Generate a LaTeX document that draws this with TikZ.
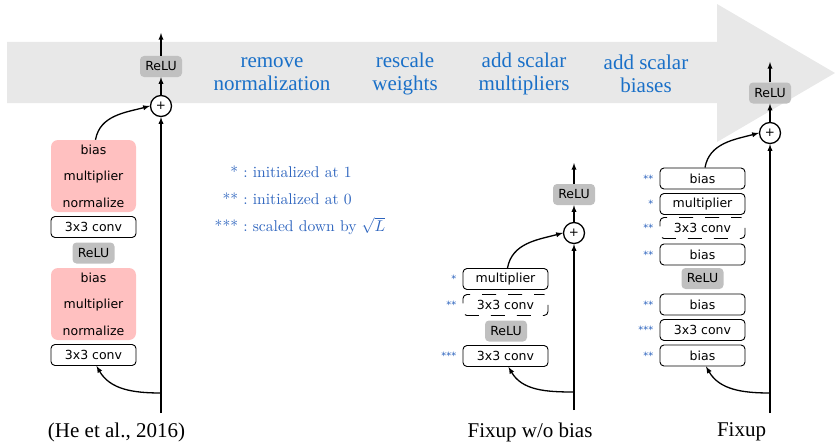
\documentclass[tikz,border=0pt]{standalone}
\usepackage{fontspec}
\usepackage{graphicx}
\usepackage{xcolor}
\usepackage{tikz}
\usetikzlibrary{arrows}

\newfontfamily\boxfont{DejaVu Sans}
\newfontfamily\capfont{Liberation Serif}

\definecolor{bandgray}{RGB}{232,232,232}
\definecolor{relugray}{RGB}{192,192,192}
\definecolor{normpink}{RGB}{255,192,192}
\definecolor{stepblue}{RGB}{26,112,200}
\definecolor{noteblue}{RGB}{45,100,190}

\tikzset{
  layer/.style={draw,fill=white,rounded corners=4pt,line width=0.9pt,minimum width=85pt,minimum height=21pt,inner sep=0pt,font={\boxfont\fontsize{12.5}{15}\selectfont}},
  dlayer/.style={layer,draw=none,fill=none,postaction={draw,line width=0.9pt,dash pattern=on 14pt off 12pt,dash phase=4pt}},
  relu/.style={fill=relugray,rounded corners=4pt,minimum width=42pt,minimum height=21pt,inner sep=0pt,font={\boxfont\fontsize{12.5}{15}\selectfont}},
  norm/.style={fill=normpink,rounded corners=7pt,minimum width=85pt,minimum height=72pt,inner sep=0pt,align=center,font={\boxfont\fontsize{12.5}{26.5}\selectfont}},
  sum/.style={circle,draw,fill=white,line width=1.3pt,minimum size=21pt,inner sep=0pt,font={\boxfont\fontsize{12}{14}\selectfont}},
  star/.style={anchor=east,inner sep=0pt,text=noteblue,font={\boxfont\fontsize{10}{12}\selectfont}},
  steptext/.style={align=center,text=stepblue,font={\capfont\fontsize{21}{23}\selectfont}},
  caption/.style={font={\capfont\fontsize{21}{24}\selectfont}},
  flow/.style={->,line width=1.3pt}
}

\begin{document}
\begin{tikzpicture}[>=latex,x=1pt,y=-1pt]

\useasboundingbox (0,0) rectangle (835,444);

% BACKGROUND

% Big arrow.
\fill[bandgray] (7,42) -- (717,42) -- (717,4) -- (835,73) -- (717,142) -- (717,103) -- (7,103) -- cycle;

% Step labels.
\node[steptext] (remove) at (272,74) {remove\\normalization};
\node[steptext] (rescale) at (405,74) {rescale\\weights};
\node[steptext] (mult) at (524,74) {add scalar\\multipliers};
\node[steptext] (biases) at (646,74) {add scalar\\biases};

% Legend.
\node[inner sep=0pt,text=noteblue,font={\fontsize{10}{17.3}\selectfont}] (legend) at (300,199)
  {\scalebox{1.56}{\begin{tabular}{@{}r@{\ :\ }l@{}}
   {*} & initialized at 1\\
   {**} & initialized at 0\\
   {***} & scaled down by $\sqrt{L}$
   \end{tabular}}};

% ORIGINAL BLOCK

% Branch.
\node[norm] (norm1) at (93.5,176) {bias\\multiplier\\normalize};
\node[layer] (conv1) at (93.5,227) {3x3 conv};
\node[relu] (reluA) at (93.5,253) {ReLU};
\node[norm] (norm2) at (93.5,304) {bias\\multiplier\\normalize};
\node[layer] (conv2) at (93.5,355) {3x3 conv};

% Shortcut and output.
\coordinate (bot1) at (161,413);
\coordinate (in1) at (161,393);
\node[sum] (sum1) at (161,106) {+};
\node[relu] (relu1) at (161,66.5) {ReLU};
\coordinate (top1) at (161,33);
\draw[flow] (bot1) -- (sum1);
\draw[flow] (sum1) -- (relu1);
\draw[flow] (relu1) -- (top1);
\draw[flow] (in1) to[out=180,in=-60] ([xshift=3pt]conv2.south);
\draw[flow] ([xshift=2pt]norm1.north) to[out=80,in=195] (sum1.west);

\node[caption] (cap1) at (116.5,432) {(He et al., 2016)};

% FIXUP W/O BIAS

% Branch.
\node[layer] (mult2) at (505.5,279) {multiplier};
\node[dlayer] (dconv2) at (505.5,305) {3x3 conv};
\node[relu] (reluB) at (506,331) {ReLU};
\node[layer] (conv2b) at (505.5,356) {3x3 conv};
\node[star] (s2a) at ([xshift=-6pt]mult2.west) {*};
\node[star] (s2b) at ([xshift=-6pt]dconv2.west) {**};
\node[star] (s2c) at ([xshift=-6pt]conv2b.west) {***};

% Shortcut and output.
\coordinate (bot2) at (574,410);
\coordinate (in2) at (574,392);
\node[sum] (sum2) at (574,233) {+};
\node[relu] (relu2) at (574,194.5) {ReLU};
\coordinate (top2) at (574,163);
\draw[flow] (bot2) -- (sum2);
\draw[flow] (sum2) -- (relu2);
\draw[flow] (relu2) -- (top2);
\draw[flow] (in2) to[out=180,in=-60] ([xshift=3pt]conv2b.south);
\draw[flow] ([xshift=2pt]mult2.north) to[out=80,in=195] (sum2.west);

\node[caption] (cap2) at (530,432) {Fixup w/o bias};

% FIXUP

% Branch.
\node[layer] (bias3a) at (702.5,178.5) {bias};
\node[layer] (mult3) at (702.5,204) {multiplier};
\node[dlayer] (dconv3) at (702.5,228) {3x3 conv};
\node[layer] (bias3b) at (702.5,254.5) {bias};
\node[relu] (reluC) at (702.5,278.5) {ReLU};
\node[layer] (bias3c) at (702.5,304.5) {bias};
\node[layer] (conv3) at (702.5,330) {3x3 conv};
\node[layer] (bias3d) at (702.5,355.5) {bias};
\node[star] (s3a) at ([xshift=-6pt]bias3a.west) {**};
\node[star] (s3b) at ([xshift=-6pt]mult3.west) {*};
\node[star] (s3c) at ([xshift=-6pt]dconv3.west) {**};
\node[star] (s3d) at ([xshift=-6pt]bias3b.west) {**};
\node[star] (s3e) at ([xshift=-6pt]bias3c.west) {**};
\node[star] (s3f) at ([xshift=-6pt]conv3.west) {***};
\node[star] (s3g) at ([xshift=-6pt]bias3d.west) {**};

% Shortcut and output.
\coordinate (bot3) at (770,413);
\coordinate (in3) at (770,393);
\node[sum] (sum3) at (770,133) {+};
\node[relu] (relu3) at (770,93) {ReLU};
\coordinate (top3) at (770,62);
\draw[flow] (bot3) -- (sum3);
\draw[flow] (sum3) -- (relu3);
\draw[flow] (relu3) -- (top3);
\draw[flow] (in3) to[out=180,in=-60] ([xshift=3.5pt]bias3d.south);
\draw[flow] ([xshift=2.5pt]bias3a.north) to[out=80,in=195] (sum3.west);

\node[caption] (cap3) at (741.5,432) {Fixup};

\end{tikzpicture}
\end{document}
